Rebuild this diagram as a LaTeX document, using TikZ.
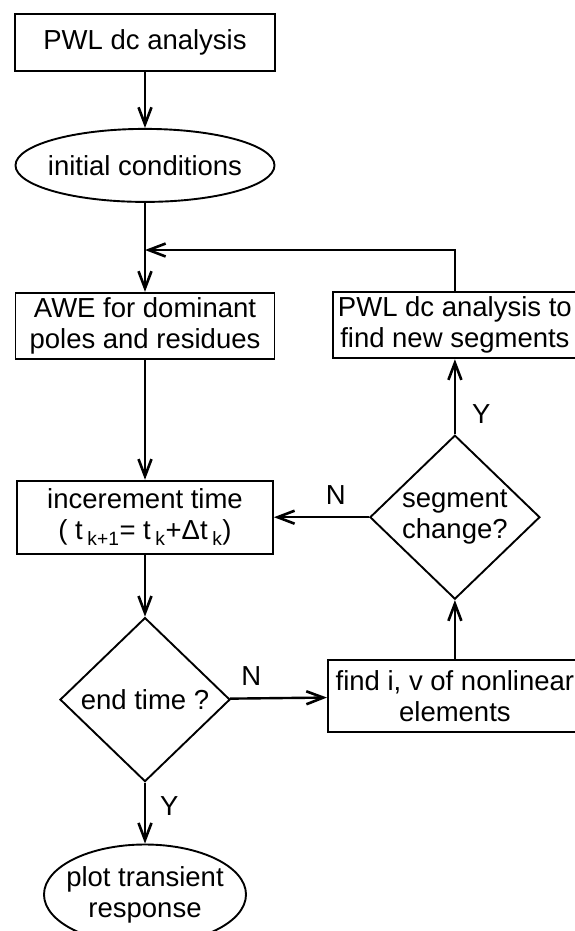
\documentclass[tikz,border=0pt]{standalone}
\usepackage{fontspec}
\setmainfont{Liberation Sans}
\usetikzlibrary{shapes.geometric, arrows.meta, positioning, calc}

\begin{document}
\begin{tikzpicture}[x=1pt, y=-1pt, node distance=60pt,
    every node/.style={font=\fontsize{27.5}{31}\selectfont},
    process/.style={rectangle, draw, line width=1.9pt, align=center, inner sep=0pt},
    terminal/.style={ellipse, draw, line width=1.9pt, align=center, inner ysep=0pt},
    decision/.style={diamond, draw, line width=1.9pt, align=center, inner sep=0pt, minimum width=170pt, minimum height=164pt},
    arrow/.style={-{Straight Barb[length=17pt, width=13pt, line width=2.6pt]}, line width=2.4pt},
    yesno/.style={inner sep=0pt}]

    \useasboundingbox (0,0) rectangle (574,931);

    % main column
    \node [process, minimum width=260pt, minimum height=57pt] (dcop) at (145,42.5) {PWL dc analysis};
    \node [terminal, below=56pt of dcop, inner xsep=-6pt, minimum width=259pt, minimum height=73pt] (init) {initial conditions};
    \node [process, below=89pt of init, minimum width=259pt, minimum height=66pt] (awe) {AWE for dominant\\poles and residues};
    \node [process, below=120pt of awe, minimum width=256pt, minimum height=73pt] (incr) {incerement time\\( t\,\textsubscript{k+1}= t\,\textsubscript{k}+Δt\,\textsubscript{k})};
    \node [decision, below=62pt of incr] (endt) {end time ?};
    \node [terminal, below=61pt of endt, inner xsep=-8pt, minimum width=202pt, minimum height=100pt] (plot) {plot transient\\response};

    % right column
    \node [decision, right=95pt of incr] (seg) {segment\\change?};
    \node [process, above=75pt of seg, minimum width=243pt, minimum height=66pt] (newseg) {PWL dc analysis to\\find new segments};
    \node [process, below=59pt of seg, minimum width=254pt, minimum height=72pt] (nonlin) {find i, v of nonlinear\\elements};

    \coordinate (join) at ($(init.south)!0.53!(awe.north)$);

    \draw [arrow] (dcop) -- (init);
    \draw [arrow] (init) -- (awe);
    \draw [arrow] (newseg.north) |- (join);
    \draw [arrow] (awe) -- (incr);
    \draw [arrow] (seg) -- node [yesno, pos=0.35, above=12pt] {N} (incr);
    \draw [arrow] (incr) -- (endt);
    \draw [arrow] (endt) -- node [yesno, pos=0.22, above=12pt] {N} (nonlin);
    \draw [arrow] (nonlin) -- (seg);
    \draw [arrow] (seg) -- node [yesno, pos=0.27, right=16pt] {Y} (newseg);
    \draw [arrow] (endt) -- node [yesno, pos=0.38, right=14pt] {Y} (plot);

\end{tikzpicture}
\end{document}
